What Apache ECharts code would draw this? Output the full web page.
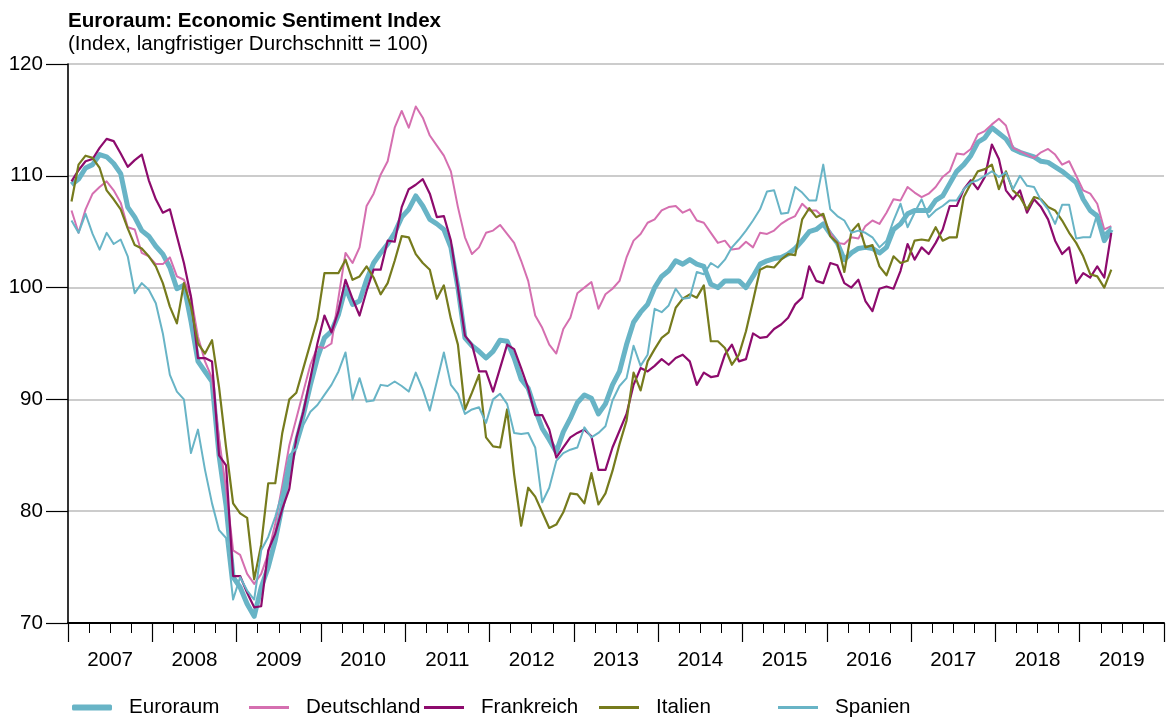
<!DOCTYPE html>
<html>
<head>
<meta charset="utf-8">
<title>Euroraum: Economic Sentiment Index</title>
<script src="https://cdn.jsdelivr.net/npm/echarts@6/dist/echarts.min.js"></script>
<style>
    html, body { margin: 0; padding: 0; background: #ffffff; }
    #chart { width: 1167px; height: 718px; }
</style>
</head>
<body>
<div id="chart"></div>
<script>
// monthly values, Jan 2007 .. May 2019
const yearLabels = ['2007', '2008', '2009', '2010', '2011', '2012', '2013',
    '2014', '2015', '2016', '2017', '2018', '2019'];
const yTicks = [70, 80, 90, 100, 110, 120];

const euroraum = [
    109.2, 109.7, 110.7, 111.0, 111.9, 111.7, 111.1, 110.2, 107.2, 106.3, 105.1, 104.6,
    103.7, 103.0, 101.8, 99.9, 100.2, 97.0, 93.4, 92.5, 91.6, 85.0, 80.5, 74.1,
    73.2, 71.7, 70.6, 73.2, 75.0, 77.4, 80.5, 83.8, 86.2, 88.6, 91.3, 93.7,
    95.5, 96.1, 97.6, 100.0, 98.5, 98.8, 100.7, 102.2, 103.1, 103.9, 104.9, 106.3,
    107.0, 108.2, 107.3, 106.1, 105.7, 105.2, 103.6, 100.0, 95.5, 94.8, 94.3, 93.7,
    94.3, 95.3, 95.2, 93.7, 91.8, 91.0, 89.1, 87.4, 86.4, 85.3, 87.1, 88.3,
    89.7, 90.4, 90.1, 88.7, 89.6, 91.3, 92.5, 94.9, 96.9, 97.8, 98.5, 100.0,
    101.0, 101.5, 102.4, 102.1, 102.5, 102.1, 101.9, 100.3, 100.0, 100.6, 100.6, 100.6,
    100.0, 101.0, 102.1, 102.4, 102.6, 102.7, 103.0, 103.5, 104.2, 105.0, 105.2, 105.7,
    104.8, 104.0, 102.5, 103.1, 103.5, 103.6, 103.5, 103.1, 103.6, 105.2, 105.7, 106.6,
    106.9, 106.9, 106.9, 107.8, 108.2, 109.3, 110.4, 111.0, 111.8, 113.0, 113.4, 114.3,
    113.8, 113.3, 112.4, 112.1, 111.9, 111.7, 111.3, 111.2, 110.8, 110.4, 109.9, 109.4,
    107.9, 106.9, 106.4, 104.2, 105.2
];
const deutschland = [
    106.9, 104.9, 107.0, 108.4, 109.0, 109.5, 108.7, 107.6, 105.4, 105.2, 103.1, 102.8,
    102.1, 102.1, 102.7, 101.0, 100.7, 99.2, 95.6, 93.4, 91.9, 86.5, 82.0, 76.5,
    76.1, 74.4, 73.5, 74.4, 76.2, 78.9, 82.3, 85.9, 88.3, 90.7, 93.1, 94.7,
    94.6, 95.0, 99.1, 103.1, 102.2, 103.6, 107.3, 108.4, 110.1, 111.3, 114.3, 115.8,
    114.3, 116.2, 115.2, 113.6, 112.7, 111.8, 110.4, 107.2, 104.5, 103.0, 103.6, 104.9,
    105.1, 105.6, 104.8, 104.0, 102.4, 100.6, 97.5, 96.4, 94.9, 94.1, 96.3, 97.3,
    99.5, 100.0, 100.5, 98.1, 99.4, 99.9, 100.6, 102.7, 104.2, 104.8, 105.8, 106.1,
    106.9, 107.2, 107.3, 106.7, 107.0, 106.0, 105.8, 104.9, 104.0, 104.2, 103.4, 103.5,
    104.1, 103.6, 104.9, 104.8, 105.1, 105.7, 106.1, 106.4, 107.5, 106.9, 106.9, 106.3,
    104.9, 104.0, 103.9, 104.5, 104.4, 105.5, 106.0, 105.7, 106.7, 107.9, 107.8, 109.0,
    108.5, 108.1, 108.4, 109.0, 109.9, 110.4, 112.0, 111.9, 112.4, 113.7, 114.0, 114.6,
    115.1, 114.5, 112.5, 112.2, 111.9, 111.6, 112.1, 112.4, 111.9, 111.0, 111.3, 110.0,
    108.7, 108.4, 107.5, 105.2, 105.5
];
const frankreich = [
    109.5, 110.5, 111.3, 111.5, 112.5, 113.3, 113.1, 112.0, 110.8, 111.4, 111.9, 109.6,
    107.9, 106.7, 107.0, 104.6, 102.2, 99.2, 93.7, 93.7, 93.4, 85.0, 84.1, 74.2,
    74.2, 72.7, 71.4, 71.5, 76.5, 78.0, 80.2, 82.0, 86.5, 88.9, 91.9, 95.0,
    97.5, 96.0, 97.9, 100.7, 99.0, 97.5, 99.7, 101.6, 101.6, 104.2, 104.1, 107.2,
    108.8, 109.2, 109.7, 108.4, 106.3, 106.4, 104.2, 100.0, 95.7, 94.9, 92.5, 92.5,
    90.7, 92.8, 94.9, 94.5, 92.8, 91.0, 88.6, 88.6, 87.3, 84.8, 85.7, 86.6,
    87.0, 87.3, 86.7, 83.7, 83.7, 85.7, 87.2, 88.7, 91.3, 92.8, 92.5, 93.0,
    93.6, 93.1, 93.7, 94.0, 93.4, 91.3, 92.4, 92.0, 92.1, 94.0, 94.9, 93.4,
    93.6, 95.9, 95.5, 95.6, 96.3, 96.7, 97.3, 98.5, 99.1, 101.9, 100.6, 100.4,
    102.2, 102.0, 100.4, 100.0, 100.7, 98.8, 97.9, 99.9, 100.1, 99.9, 101.5, 103.9,
    102.5, 103.6, 103.0, 104.0, 105.2, 107.3, 107.3, 108.8, 109.6, 108.8, 109.9, 112.8,
    111.5, 108.7, 107.9, 108.7, 106.7, 107.9, 107.2, 106.1, 104.2, 103.0, 103.6, 100.4,
    101.3, 100.9, 101.9, 100.9, 104.9
];
const italien = [
    107.7, 111.0, 111.8, 111.6, 110.7, 108.7, 107.9, 107.0, 105.3, 103.8, 103.5, 102.8,
    101.9, 100.4, 98.3, 96.8, 100.4, 98.3, 95.0, 94.1, 95.3, 91.1, 85.7, 80.7,
    79.8, 79.4, 73.9, 77.0, 82.5, 82.5, 87.0, 90.0, 90.6, 92.8, 95.0, 97.2,
    101.3, 101.3, 101.3, 102.5, 100.7, 101.0, 101.9, 100.9, 99.4, 100.4, 102.4, 104.6,
    104.5, 103.0, 102.2, 101.6, 99.0, 100.2, 97.2, 94.9, 89.1, 90.6, 92.2, 86.6,
    85.8, 85.7, 89.1, 83.3, 78.7, 82.1, 81.3, 79.9, 78.5, 78.8, 79.9, 81.6,
    81.5, 80.7, 83.4, 80.6, 81.6, 83.6, 86.0, 88.1, 92.4, 90.8, 93.4, 94.5,
    95.5, 96.0, 98.2, 99.0, 99.4, 99.1, 100.2, 95.2, 95.2, 94.6, 93.1, 94.0,
    96.1, 98.8, 101.6, 101.9, 101.8, 102.5, 103.0, 102.9, 106.1, 107.1, 106.3, 106.6,
    104.6, 104.0, 101.4, 105.0, 105.7, 103.6, 103.8, 101.9, 101.1, 102.8, 102.2, 102.4,
    104.2, 104.3, 104.2, 105.4, 104.2, 104.5, 104.5, 108.1, 109.3, 110.4, 110.6, 111.0,
    108.8, 110.4, 108.7, 108.1, 107.0, 108.1, 107.9, 107.2, 106.9, 106.0, 104.9, 104.0,
    102.8, 101.2, 101.0, 100.0, 101.6
];
const spanien = [
    106.0, 104.9, 106.6, 104.8, 103.4, 104.9, 103.9, 104.3, 102.8, 99.5, 100.4, 99.8,
    98.6, 95.9, 92.2, 90.7, 90.0, 85.2, 87.3, 83.7, 80.7, 78.3, 77.6, 72.1,
    74.1, 72.9, 72.1, 76.5, 77.7, 79.5, 81.7, 85.0, 85.6, 87.7, 88.9, 89.5,
    90.4, 91.3, 92.5, 94.2, 90.0, 91.9, 89.8, 89.9, 91.3, 91.2, 91.6, 91.2,
    90.7, 92.4, 90.9, 89.0, 91.6, 94.2, 91.3, 90.5, 88.7, 89.1, 89.3, 87.9,
    90.0, 90.5, 89.6, 87.0, 86.9, 87.0, 85.7, 80.8, 82.1, 84.5, 85.2, 85.5,
    85.7, 87.5, 86.6, 87.0, 87.6, 89.9, 91.2, 91.9, 94.8, 93.0, 94.0, 98.1,
    97.8, 98.4, 99.9, 99.0, 99.1, 101.4, 101.2, 102.2, 101.8, 102.5, 103.6, 104.3,
    105.1, 106.0, 107.0, 108.6, 108.7, 106.6, 106.7, 109.0, 108.5, 107.8, 107.8, 111.0,
    107.0, 106.4, 106.0, 104.9, 105.1, 104.9, 104.5, 103.6, 104.2, 106.0, 107.5, 105.4,
    106.7, 107.9, 106.3, 106.9, 107.3, 107.8, 107.8, 108.8, 109.4, 109.6, 110.0, 110.4,
    109.9, 110.3, 108.8, 110.0, 109.1, 109.0, 107.8, 107.0, 105.7, 107.4, 107.4, 104.4,
    104.5, 104.5, 106.6, 104.8, 105.4
];

const FONT = 'Liberation Sans, Arial, Helvetica, sans-serif';
const FONT_SIZE = 20.6;
const colors = {
    euroraum: '#68b4c6',
    deutschland: '#d56fb0',
    frankreich: '#8d0b6d',
    italien: '#767b1d',
    spanien: '#68b4c6'
};

// month i sits in the middle of its slot on a 0..156 month axis
function toPoints(values) {
    return values.map((v, i) => [i + 0.5, v]);
}

function line_item(name, values, color, width) {
    return {
        type: 'line',
        name: name,
        data: toPoints(values),
        showSymbol: false,
        symbol: 'none',
        xAxisIndex: 0,
        yAxisIndex: 0,
        lineStyle: {color: color, width: width, join: 'round'},
        itemStyle: {color: color},
        emphasis: {disabled: true}
    };
}

function legend_item(name, left, thick) {
    return {
        data: [{name: name, icon: thick ? 'roundRect' : 'rect'}],
        left: left,
        top: 692,
        itemWidth: 40,
        itemHeight: thick ? 6 : 3,
        selectedMode: false,
        textStyle: {fontFamily: FONT, fontSize: FONT_SIZE, color: '#000', padding: [0, 0, 0, 12]}
    };
}

const chart = echarts.init(document.getElementById('chart'), null, {renderer: 'canvas'});

chart.setOption({
    animation: false,
    backgroundColor: '#ffffff',
    title: {
        text: 'Euroraum: Economic Sentiment Index',
        subtext: '(Index, langfristiger Durchschnitt = 100)',
        left: 63,
        top: 6,
        itemGap: 2,
        textStyle: {fontFamily: FONT, fontSize: FONT_SIZE, fontWeight: 'bold', color: '#000'},
        subtextStyle: {fontFamily: FONT, fontSize: FONT_SIZE, color: '#000'}
    },
    legend: [
        legend_item('Euroraum', 67, true),
        legend_item('Deutschland', 244),
        legend_item('Frankreich', 419),
        legend_item('Italien', 594),
        legend_item('Spanien', 773)
    ],
    grid: {left: 68, right: 0, top: 64, bottom: 95, containLabel: false},
    xAxis: [{
        type: 'value',
        min: 0,
        max: 156,
        interval: 12,
        axisLine: {show: true, lineStyle: {color: '#000', width: 2}},
        axisTick: {show: true, length: 19, lineStyle: {color: '#000', width: 1.2}},
        minorTick: {show: true, splitNumber: 4, length: 10, lineStyle: {color: '#000', width: 1}},
        axisLabel: {show: false},
        splitLine: {show: false}
    }, {
        type: 'value',
        min: 0,
        max: 156,
        interval: 6,
        position: 'bottom',
        axisLine: {show: false},
        axisTick: {show: false},
        splitLine: {show: false},
        axisLabel: {
            show: true,
            margin: 27,
            fontFamily: FONT,
            fontSize: FONT_SIZE,
            color: '#000',
            formatter: function (v) {
                return v % 12 === 6 ? yearLabels[(v - 6) / 12] : '';
            }
        }
    }],
    yAxis: {
        type: 'value',
        min: yTicks[0],
        max: yTicks[yTicks.length - 1],
        interval: 10,
        axisLine: {show: true, lineStyle: {color: '#000', width: 1.6}},
        axisTick: {show: true, length: 22, lineStyle: {color: '#000', width: 1.2}},
        axisLabel: {margin: 25, fontFamily: FONT, fontSize: FONT_SIZE, color: '#000'},
        splitLine: {show: true, lineStyle: {color: '#cccccc', width: 2}}
    },
    series: [
        line_item('Euroraum', euroraum, colors.euroraum, 5),
        line_item('Deutschland', deutschland, colors.deutschland, 2),
        line_item('Frankreich', frankreich, colors.frankreich, 2.2),
        line_item('Italien', italien, colors.italien, 2.2),
        line_item('Spanien', spanien, colors.spanien, 2)
    ]
});
</script>
</body>
</html>
